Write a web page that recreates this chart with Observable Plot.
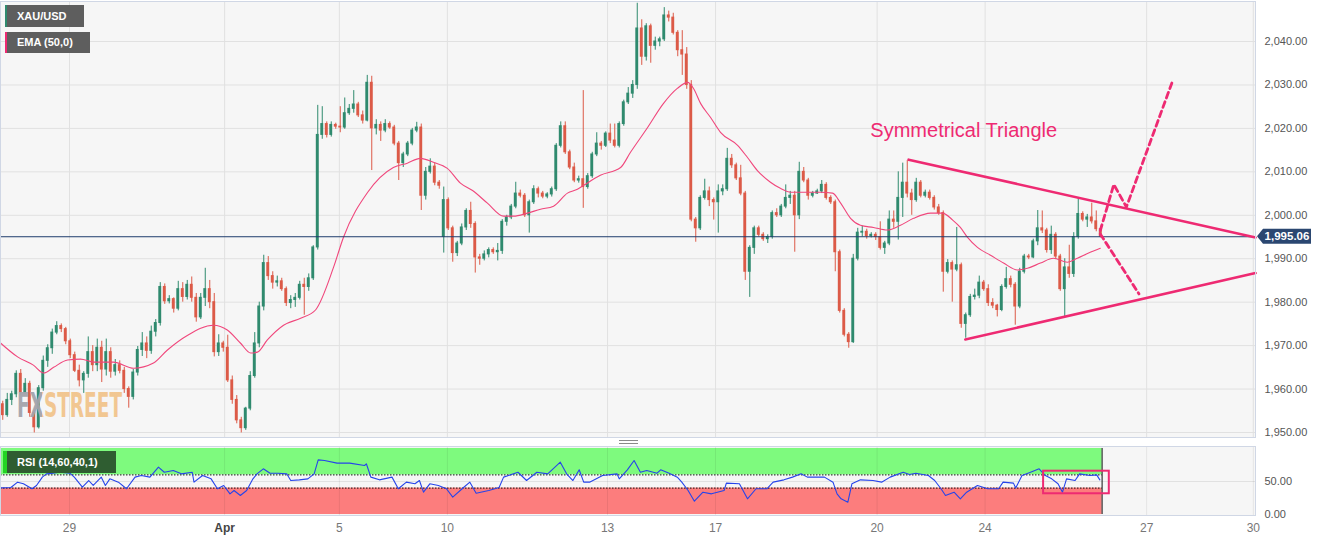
<!DOCTYPE html>
<html><head><meta charset="utf-8">
<script src="https://cdn.jsdelivr.net/npm/d3@7"></script>
<script src="https://cdn.jsdelivr.net/npm/@observablehq/plot@0.6"></script>
<style>
body{margin:0;background:#fff;font-family:"Liberation Sans",Arial,sans-serif;}
#wrap{position:relative;width:1327px;height:541px;overflow:hidden;background:#fff;}
#main{position:absolute;left:0;top:0;}
#rsi{position:absolute;left:0;top:445px;}
.leg{position:absolute;background:#5e5e5e;color:#fff;font:bold 11px "Liberation Sans",Arial,sans-serif;box-sizing:border-box;padding-left:10px;white-space:nowrap;}
.split{position:absolute;left:619px;width:19px;height:1px;background:#8a8a8a;}
</style></head>
<body><div id="wrap"><div id="main"></div><div id="rsi"></div></div>
<script>
// ---------- DATA (2-hour candles, XAU/USD) ----------
const opens = [1956.5,1954.0,1957.5,1958.8,1963.5,1959.2,1961.2,1954.5,1951.2,1960.2,1966.5,1969.4,1973.0,1974.5,1973.8,1971.0,1967.8,1964.2,1962.0,1963.5,
1968.5,1965.5,1969.5,1964.5,1968.5,1964.0,1965.5,1964.2,1960.0,1958.2,1963.8,1969.0,1970.5,1968.8,1973.2,1975.2,1983.5,1980.2,1980.7,1978.5,
1983.0,1981.2,1984.0,1981.0,1976.5,1981.0,1983.0,1980.0,1968.5,1970.5,1969.5,1962.0,1957.5,1952.8,1951.0,1955.5,1963.0,1970.5,1979.0,1989.0,
1986.0,1984.5,1984.8,1983.0,1979.8,1980.5,1981.0,1984.0,1983.5,1985.5,1992.6,2018.5,2021.0,2018.5,2020.8,2020.4,2020.2,2023.5,2024.5,2025.5,
2023.0,2021.8,2030.5,2020.0,2020.8,2019.5,2021.0,2020.2,2016.5,2012.0,2014.0,2016.5,2019.5,2020.2,2004.5,2010.0,2011.2,2007.5,1995.0,2003.5,
1997.0,1991.3,1993.5,1997.2,2001.0,1998.0,1990.3,1990.0,1991.0,1992.0,1991.5,1991.8,1998.5,1999.5,2002.0,2005.0,2004.5,2000.0,2003.0,2006.0,
2005.0,2004.3,2004.8,2006.0,2016.0,2020.5,2014.5,2011.0,2008.0,2008.3,2006.5,2009.0,2014.0,2016.5,2016.0,2018.8,2017.2,2016.0,2021.0,2026.0,
2028.0,2030.0,2043.0,2036.5,2043.5,2039.0,2040.0,2040.5,2046.0,2045.5,2042.0,2038.0,2037.0,2030.0,1999.0,1997.0,2004.0,2005.5,2003.5,2003.0,
2005.5,2006.0,2013.0,2011.5,2008.5,2005.0,1987.0,1992.5,1997.0,1995.5,1994.5,1995.0,2000.5,2000.0,2002.0,2004.0,2004.5,2000.0,2010.0,2008.0,
2004.5,2005.0,2005.5,2007.0,2004.0,2003.0,1991.5,1978.0,1972.5,1970.8,1990.0,1996.0,1996.2,1995.2,1995.5,1995.0,1992.5,1993.5,1999.0,1998.5,
2004.0,2007.5,2005.0,2003.5,2007.5,2004.5,2005.2,2004.0,2001.8,2000.5,1987.0,1989.0,1987.5,1988.5,1975.0,1977.0,1981.2,1981.5,1984.5,1983.0,
1979.8,1979.2,1978.2,1983.5,1985.3,1984.0,1979.0,1987.0,1990.5,1990.3,1994.0,1997.0,1996.5,1992.0,1995.5,1990.5,1983.0,1988.0,1986.5,1995.0,
2000.3,1999.0,1999.5,1998.6,1996.8];
const highs = [1957.2,1959.0,1959.5,1964.2,1964.5,1962.4,1961.8,1955.0,1960.8,1967.6,1970.2,1973.8,1975.5,1975.0,1974.2,1971.5,1968.5,1965.5,1964.0,1972.0,
1970.0,1971.5,1971.0,1971.5,1969.5,1966.8,1966.5,1965.0,1960.5,1964.5,1969.8,1973.0,1972.0,1974.5,1976.0,1984.5,1984.2,1981.5,1981.0,1984.8,
1984.5,1985.0,1985.8,1982.0,1982.0,1987.8,1985.0,1982.0,1972.5,1971.0,1972.4,1963.0,1958.5,1953.5,1955.8,1964.0,1973.0,1980.0,1990.8,1990.5,
1987.0,1986.0,1985.5,1983.5,1981.5,1982.0,1984.8,1985.5,1986.5,1993.0,2025.3,2025.0,2021.5,2021.5,2021.2,2025.0,2027.0,2025.5,2028.7,2026.0,
2024.0,2032.2,2032.0,2022.0,2021.5,2022.0,2021.5,2020.7,2017.0,2014.5,2017.0,2020.0,2021.4,2021.0,2011.0,2013.0,2012.0,2008.0,2006.5,2004.0,
1997.5,1994.0,1998.0,2001.5,2003.0,1998.5,1991.0,1991.8,1992.5,1992.5,1993.5,1999.0,2000.0,2002.5,2007.6,2005.8,2005.0,2003.5,2006.8,2006.5,
2005.5,2005.2,2006.5,2016.5,2021.5,2021.5,2015.0,2012.0,2009.0,2028.7,2009.6,2014.5,2019.0,2017.0,2019.2,2021.0,2021.0,2021.5,2026.5,2029.4,
2031.0,2048.8,2045.0,2044.1,2044.0,2041.0,2041.0,2047.8,2047.0,2046.5,2042.5,2042.5,2038.6,2031.0,1999.5,2004.5,2008.3,2006.5,2004.0,2007.0,
2007.0,2015.4,2014.0,2012.0,2011.5,2005.5,1993.0,1997.5,1997.5,1996.0,1995.5,2001.0,2001.5,2002.5,2007.0,2005.5,2005.5,2012.2,2011.0,2008.5,
2005.5,2006.0,2008.0,2007.5,2004.5,2003.5,1992.0,1978.5,1973.0,1991.0,1997.0,1997.5,1996.8,1996.0,1996.0,1998.5,1994.0,2001.0,2001.0,2010.0,
2012.0,2012.6,2006.0,2008.5,2008.0,2005.8,2005.8,2004.5,2002.5,2001.0,1989.8,1989.5,1997.2,1989.0,1977.5,1981.8,1983.0,1986.0,1985.0,1984.0,
1980.8,1979.5,1984.0,1988.0,1986.0,1984.5,1987.8,1991.0,1991.0,1994.5,2001.1,2001.0,1997.0,1997.5,1996.0,1991.0,1990.0,1993.1,1996.0,2003.9,
2000.8,2000.2,2002.8,2001.0,1997.5];
const lows = [1952.8,1953.5,1956.2,1958.0,1958.6,1958.8,1953.5,1949.9,1950.8,1959.5,1965.0,1968.0,1972.5,1973.0,1970.2,1967.0,1963.8,1960.5,1959.0,1962.5,
1964.0,1964.0,1961.5,1963.0,1962.5,1963.0,1963.5,1959.0,1955.6,1957.5,1963.0,1967.5,1967.0,1968.0,1972.0,1974.5,1979.5,1979.6,1977.5,1978.0,
1980.0,1980.5,1980.0,1975.4,1976.0,1979.0,1978.5,1967.4,1967.5,1968.5,1961.5,1956.5,1952.0,1949.9,1950.5,1955.0,1962.5,1969.5,1978.0,1985.0,
1983.0,1983.5,1982.5,1979.0,1978.5,1978.8,1980.5,1977.0,1982.5,1985.0,1992.0,2017.5,2017.8,2018.0,2019.8,2019.0,2019.8,2023.0,2023.5,2022.5,
2021.0,2021.5,2010.3,2018.5,2017.0,2019.0,2019.8,2016.0,2008.0,2011.0,2013.5,2016.0,2019.0,2001.1,2003.5,2009.5,2006.8,2006.0,1991.3,1996.5,
1989.2,1990.5,1993.0,1996.5,1997.0,1986.7,1988.5,1989.5,1990.2,1991.0,1989.5,1991.0,1997.5,1999.0,2001.5,2004.0,1999.5,1995.9,2002.5,2004.0,
2003.8,2003.8,2004.2,2005.5,2015.5,2014.0,2010.5,2007.5,2007.4,2001.6,2006.0,2008.5,2013.5,2015.0,2015.6,2016.5,2015.5,2015.5,2020.5,2025.5,
2026.9,2029.0,2034.5,2035.5,2035.0,2038.0,2038.8,2040.0,2044.5,2041.5,2036.5,2032.2,2029.0,1998.5,1993.8,1996.5,2003.5,2002.0,1998.9,1995.9,
2004.5,2005.5,2010.8,2008.0,2004.5,1985.0,1981.1,1991.0,1995.0,1994.0,1993.5,1994.5,1999.5,1999.5,2001.5,2002.5,1991.5,1999.0,2007.5,2003.5,
2004.0,2004.8,2005.0,2003.5,2002.5,1987.0,1977.5,1972.0,1969.4,1970.5,1989.5,1995.0,1994.5,1994.8,1994.2,1992.0,1991.0,1993.0,1997.0,1994.3,
1999.5,2004.0,2000.0,2003.0,2004.0,2004.0,2003.5,2001.2,2000.0,1982.3,1986.5,1980.0,1987.0,1974.0,1971.7,1976.5,1980.5,1980.8,1982.5,1979.0,
1978.5,1976.6,1977.8,1983.0,1983.3,1974.7,1978.5,1986.5,1989.8,1990.0,1993.0,1995.8,1991.3,1991.0,1989.8,1982.5,1976.6,1985.5,1985.7,1994.5,
1998.5,1997.2,1998.0,1996.2,1994.8];
const closes = [1954.0,1957.5,1958.8,1963.5,1959.2,1961.2,1954.5,1951.2,1960.2,1966.5,1969.4,1973.0,1974.5,1973.8,1971.0,1967.8,1964.2,1962.0,1963.5,1968.5,
1965.5,1969.5,1964.5,1968.5,1964.0,1965.5,1964.2,1960.0,1958.2,1963.8,1969.0,1970.5,1968.8,1973.2,1975.2,1983.5,1980.2,1980.7,1978.5,1983.0,
1981.2,1984.0,1981.0,1976.5,1981.0,1983.0,1980.0,1968.5,1970.5,1969.5,1962.0,1957.5,1952.8,1951.0,1955.5,1963.0,1970.5,1979.0,1989.0,1986.0,
1984.5,1984.8,1983.0,1979.8,1980.5,1981.0,1984.0,1983.5,1985.5,1992.6,2018.5,2021.0,2018.5,2020.8,2020.4,2020.2,2023.5,2024.5,2025.5,2023.0,
2021.8,2030.5,2020.0,2020.8,2019.5,2021.0,2020.2,2016.5,2012.0,2014.0,2016.5,2019.5,2020.2,2004.5,2010.0,2011.2,2007.5,2006.8,2003.5,1997.0,
1991.3,1993.5,1997.2,2001.0,1998.0,1990.3,1990.0,1991.0,1992.0,1991.5,1991.8,1998.5,1999.5,2002.0,2005.0,2004.5,2000.0,2003.0,2006.0,2005.0,
2004.3,2004.8,2006.0,2016.0,2020.5,2014.5,2011.0,2008.0,2008.3,2006.5,2009.0,2014.0,2016.5,2016.0,2018.8,2017.2,2016.0,2021.0,2026.0,2028.0,
2030.0,2043.0,2036.5,2043.5,2039.0,2040.0,2040.5,2046.0,2045.5,2042.0,2038.0,2037.0,2030.0,1999.0,1997.0,2004.0,2005.5,2003.5,2003.0,2005.5,
2006.0,2013.0,2011.5,2008.5,2005.0,1987.0,1992.5,1997.0,1995.5,1994.5,1995.0,2000.5,2000.0,2002.0,2004.0,2004.5,2000.0,2010.0,2008.0,2004.5,
2005.0,2005.5,2007.0,2004.0,2003.0,1991.5,1978.0,1972.5,1970.8,1990.0,1996.0,1996.2,1995.2,1995.5,1995.0,1992.5,1993.5,1999.0,1998.5,2004.0,
2007.5,2005.0,2003.5,2007.5,2004.5,2005.2,2004.0,2001.8,2000.5,1987.0,1989.0,1987.5,1988.5,1975.0,1977.0,1981.2,1981.5,1984.5,1983.0,1979.8,
1979.2,1978.2,1983.5,1985.3,1984.0,1979.0,1987.0,1990.5,1990.3,1994.0,1997.0,1996.5,1992.0,1995.5,1990.5,1983.0,1988.0,1986.5,1995.0,2000.3,
1999.0,1999.5,1998.6,1996.8,1995.06];

// EMA(50): time (in 2-hour bar units) and value
const emaT = [0,3.8,7.3,9.6,11.8,14.9,17.8,20.7,25.1,29.6,34,37.1,41.6,47.3,50.4,53.3,55.6,57.1,59.3,62.9,66.7,70,74,76.2,81.6,87.3,90.4,93.3,96.2,99.3,
102.2,104.9,108.2,111.8,114,117.1,120,122.9,126,128.2,129.6,133.3,137.8,140,143.8,147.3,150.4,152.7,154,155.6,157.8,160,163.8,166,168.2,171.1,173.3,175.6,179.3,182.2,
184.9,186.7,188.9,191.1,194,197.1,200,202.9,206.7,209.3,211.6,213.3,214.9,217.1,220,222.9,226,228.2,231.1,234,237.1,239.3,241.8,244.4];
const emaV = [1970.6,1967.4,1965.5,1963.7,1965.0,1966.7,1966.9,1966.2,1966.2,1964.8,1966.0,1969.0,1972.4,1974.7,1973.6,1970.6,1968.3,1968.5,1971.3,1974.7,1976.3,1978.2,1988.0,1994.9,2005.3,2011.0,2012.0,2013.1,2012.2,2010.8,
2007.4,2005.7,2002.8,1999.8,1999.8,2000.5,2001.4,2002.1,2005.1,2006.0,2006.9,2009.2,2011.0,2014.5,2020.2,2025.7,2029.2,2030.6,2029.2,2025.7,2022.5,2019.1,2016.1,2013.3,2010.3,2007.6,2006.2,2005.3,2005.3,2005.3,
2005.1,2002.8,1999.3,1997.7,1997.2,1996.6,1997.7,1999.3,2000.5,2000.5,1998.9,1997.2,1994.9,1992.6,1990.8,1989.0,1987.4,1987.8,1989.0,1990.1,1989.2,1990.1,1991.3,1992.4];

// RSI(14)
const rsiT = [0,2.3,3.8,5.1,7,8,9.3,10.2,11.7,13.1,15.4,16.4,18.2,19.6,20.6,22.4,23.3,24.3,26.2,28,29.9,31.3,33.2,35.1,36.4,38.4,40.2,42.6,43,44.9,
46.8,48.2,49.6,51,51.9,53.3,54.7,56.1,57,58.4,59.9,61.7,63.6,64.5,66.4,68.3,69.7,70.6,72,74.8,77.6,80.9,81.3,82.3,84.2,87,88.4,90.2,92.1,93.1,
94,95.4,97.3,99.1,100.5,102.9,104.3,105.7,108.5,110.8,111.8,115,116.9,119.2,121.6,124.4,125.8,127.2,128.6,129.6,130.9,133.8,137,137.5,139.3,140.8,142.2,143.6,145.9,146.7,
148.6,150.4,151.4,152.8,154.2,156.1,158,160.8,161.3,164.2,166,167.9,170.3,171.7,174.1,176,177.9,179.3,183.1,185,185.9,186.8,188.3,189.2,191.1,193.9,195.8,197.7,200.6,202,
203.4,206.2,207.6,209,210,211.9,213.3,214.7,217.1,219.4,221.8,222.8,225.1,225.6,227,228.9,230.8,232.2,233.6,235,236,236.9,238.8,239.8,242.1,243.6,244.3];
const rsiV = [40.4,40.9,49,46.5,39,44,56.6,61.6,62.6,64,62.6,56.6,41.4,51.5,44,56.6,44,54,49,39,56.6,59,56.6,71.7,64,66.7,61.6,64,49,59,
54,39,44,31.3,36.4,28.8,36.4,54,61.6,69.2,62.6,62.6,61.6,51.5,52.5,54,61.6,82.8,81.8,77.8,77.8,74.2,76.8,56.6,52.5,56.6,39,49,46.5,51.5,
33.8,46.5,44,39,26.3,40.9,49,32.3,36.4,40.9,56.6,64,51.5,64,61.6,79.3,61.6,51.5,67.7,49,49,59,61.6,54,67.7,81.8,64,66.7,62.6,67.7,
62.6,56.6,49,36.4,20.2,33.8,31.3,36.4,47.5,46.5,23.7,39,39,49,52.5,56.6,61.6,56.6,56.6,49,31.3,23.7,18.7,46.5,52.5,51.5,49,56.6,64,60.6,
62.6,59,51.5,39,28.8,33.8,23.7,33.8,44,39,39,49,47.5,40,59,64,69.2,59,54,46.5,33.8,54,51.5,61.6,59,60,52.5];

// axis ticks
const priceTicks = [1950,1960,1970,1980,1990,2000,2010,2020,2030,2040];
const rsiTicks = [0,50];
const dayPos = [15.33,49.8,75.3,99.3,134.9,158.9,194.8,218.8,254.7,278.4];
const dayLabels = ["29","Apr","5","10","13","17","20","24","27","30"];

// annotations (time in bar units, price)
const triUpperT = [201.8,278.9], triUpperP = [2012.8,1994.9];
const triLowerT = [214.4,278.9], triLowerP = [1971.4,1986.7];
const breakUpT = [244.4,247.4,250.2,260.5], breakUpP = [1996.5,2007.1,2001.9,2031.0];
const breakDnT = [244.4,253.0], breakDnP = [1995.7,1981.9];
const patternLabel = "Symmetrical Triangle";
const rsiBoxT = [231.8,246.4], rsiBoxV = [31.4,65.6];

// ---------- CHART ----------
const UP = "#2f8a6e", DOWN = "#dc5a47", PINK = "#ee2a72";
const bars = opens.map((o,i)=>({i, o, h:highs[i], l:lows[i], c:closes[i]}));
const col = d => d.c >= d.o ? UP : DOWN;
const last = closes[closes.length-1];
const nBars = closes.length;
const XMAX = 1255/4.5;
const labelMap = new Map(dayPos.map((p,i)=>[p, dayLabels[i]]));
const font = "Liberation Sans, Arial, sans-serif";

const main = Plot.plot({
  width:1327, height:438, marginLeft:0, marginRight:72, marginTop:1, marginBottom:1,
  style:{background:"transparent", fontFamily:font, fontSize:"11px", overflow:"visible"},
  x:{domain:[0,XMAX], axis:null},
  y:{domain:[1948.85,2049.21], axis:null},
  color:{type:"identity"},
  marks:[
    Plot.frame({fill:"#f6f6f6"}),
    Plot.gridY(priceTicks, {stroke:"#e1e1e1", strokeOpacity:1}),
    Plot.gridX(dayPos, {stroke:"#e1e1e1", strokeOpacity:1}),
    Plot.axisY(priceTicks, {anchor:"right", tickSize:0, tickPadding:9, tickFormat:d3.format(",.2f"), fill:"#555", fontSize:11}),
    Plot.ruleX(bars, {x:d=>d.i+0.5, y1:"l", y2:"h", stroke:col, strokeWidth:1, ariaLabel:"wicks"}),
    Plot.rect(bars, {x1:d=>d.i+0.18, x2:d=>d.i+0.82, y1:"o", y2:"c", fill:col, insetTop:-0.5, insetBottom:-0.5}),
    Plot.line(emaV, {x:emaT, y:emaV, stroke:"#f0477c", strokeWidth:1.1, curve:"monotone-x"}),
    Plot.ruleY([last], {stroke:"#1f3d6d", strokeWidth:1}),
    Plot.line(triUpperP, {x:triUpperT, y:triUpperP, stroke:PINK, strokeWidth:2.6}),
    Plot.line(triLowerP, {x:triLowerT, y:triLowerP, stroke:PINK, strokeWidth:2.6}),
    Plot.line(breakUpP, {x:breakUpT, y:breakUpP, stroke:PINK, strokeWidth:2.8, strokeDasharray:"6,4"}),
    Plot.line(breakDnP, {x:breakDnT, y:breakDnP, stroke:PINK, strokeWidth:2.8, strokeDasharray:"6,4"}),
    Plot.text([patternLabel], {x:193.3, y:2019.4, text:d=>d, textAnchor:"start", fontSize:20, fill:PINK, fontFamily:font}),
    Plot.frame({stroke:"#d0d7e5"})
  ]
});
document.getElementById("main").appendChild(main);

// watermark behind candles (one text, two-tone fill) + last price tag
{
  const svg = d3.select(main);
  const defs = svg.append("defs");
  const grad = defs.append("linearGradient").attr("id","wmgrad").attr("gradientUnits","userSpaceOnUse")
    .attr("x1",17).attr("x2",122).attr("y1",0).attr("y2",0);
  grad.append("stop").attr("offset",0).attr("stop-color","#a3a3ab");
  grad.append("stop").attr("offset",0.238).attr("stop-color","#a3a3ab");
  grad.append("stop").attr("offset",0.238).attr("stop-color","#f1c48c");
  grad.append("stop").attr("offset",1).attr("stop-color","#f1c48c");
  const wicks = main.querySelector('[aria-label="wicks"]');
  const g = document.createElementNS("http://www.w3.org/2000/svg","g");
  main.insertBefore(g, wicks);
  d3.select(g).append("text")
    .attr("x",17).attr("y",417).attr("text-anchor","start")
    .attr("font-family","DejaVu Sans Condensed, DejaVu Sans, sans-serif").attr("font-weight","bold").attr("font-size",33)
    .attr("textLength",105).attr("lengthAdjust","spacingAndGlyphs")
    .attr("fill","url(#wmgrad)").attr("fill-opacity",0.95).text("FXSTREET");
  const y = main.scale("y").apply(last);
  const tag = svg.append("g");
  tag.append("path").attr("d",`M1257,${y} L1263,${y-7.5} L1311,${y-7.5} L1311,${y+7.5} L1263,${y+7.5} Z`).attr("fill","#2b4771");
  tag.append("text").attr("x",1287).attr("y",y).attr("dy","0.36em").attr("text-anchor","middle")
    .attr("fill","#fff").attr("font-weight","bold").attr("font-size",11.5).attr("font-family",font).text(d3.format(",.2f")(last));
}

const rsi = Plot.plot({
  width:1327, height:96, marginLeft:0, marginRight:72, marginTop:1, marginBottom:26,
  style:{background:"transparent", fontFamily:font, fontSize:"12px", overflow:"visible"},
  x:{domain:[0,XMAX], axis:null},
  y:{domain:[-1.5,103], axis:null},
  marks:[
    Plot.frame({fill:"#f6f6f6"}),
    Plot.gridY([50], {stroke:"#e1e1e1", strokeOpacity:1}),
    Plot.rect([0], {x1:0, x2:nBars-0.2, y1:60, y2:100, fill:"#7efa7e"}),
    Plot.rect([0], {x1:0, x2:nBars-0.2, y1:0, y2:40, fill:"#fc7d7d"}),
    Plot.gridX(dayPos, {stroke:"#000", strokeOpacity:0.07}),
    Plot.ruleY([40,60], {x1:0, x2:nBars-0.2, stroke:"#111", strokeDasharray:"1.5,1.5", strokeWidth:1}),
    Plot.ruleX([0, nBars-0.2], {y1:0, y2:100, stroke:"#111", strokeWidth:1}),
    Plot.line(rsiV, {x:rsiT, y:rsiV, stroke:"#2644ea", strokeWidth:1.1}),
    Plot.rect([0], {x1:rsiBoxT[0], x2:rsiBoxT[1], y1:rsiBoxV[0], y2:rsiBoxV[1], fill:"none", stroke:PINK, strokeWidth:2}),
    Plot.axisY(rsiTicks, {anchor:"right", tickSize:0, tickPadding:9, tickFormat:d3.format(".2f"), fill:"#555", fontSize:11}),
    Plot.axisX(dayPos, {anchor:"bottom", tickSize:0, tickPadding:8, tickFormat:d=>labelMap.get(d), fill:"#777", fontSize:12}),
    Plot.frame({stroke:"#d0d7e5"})
  ]
});
document.getElementById("rsi").appendChild(rsi);
d3.select(rsi).selectAll("text").filter(function(){return this.textContent==="Apr";})
  .attr("font-weight","bold").attr("fill","#444");

// legends
const wrap = document.getElementById("wrap");
function legend(txt, left, top, w, h, bg, strip, sw){
  const d = document.createElement("div");
  d.className = "leg"; d.textContent = txt;
  Object.assign(d.style,{left:left+"px", top:top+"px", width:w+"px", height:h+"px", lineHeight:h+"px",
    background:bg, borderLeft:`${sw}px solid ${strip}`});
  wrap.appendChild(d);
}
legend("XAU/USD", 5, 5, 79, 22, "#5e5e5e", UP, 2);
legend("EMA (50,0)", 5, 32, 85, 21, "#5e5e5e", PINK, 2);
legend("RSI (14,60,40,1)", 3, 451, 113, 22, "#2f5d31", "#23d423", 4);
for (const t of [440,442.5]) { const s=document.createElement("div"); s.className="split"; s.style.top=t+"px"; wrap.appendChild(s); }
</script></body></html>
